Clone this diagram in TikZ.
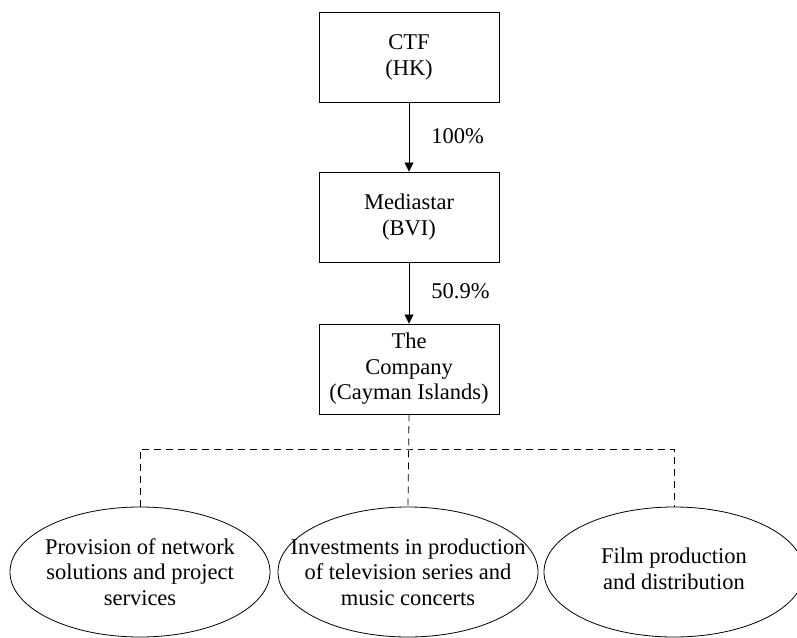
\documentclass[tikz,border=0pt]{standalone}
\usepackage{fontspec}
\setmainfont{Liberation Serif}
\usetikzlibrary{shapes.geometric,arrows.meta}
\begin{document}
\begin{tikzpicture}[x=1pt,y=-1pt,
  every node/.style={font=\fontsize{22.5}{25.5}\selectfont},
  entity/.style={draw,line width=0.9pt,minimum width=180pt,minimum height=90pt,align=center,inner sep=0pt},
  activity/.style={draw,line width=0.8pt,ellipse,minimum width=260pt,minimum height=130pt,inner sep=0pt},
  label/.style={align=center,inner sep=0pt},
  own/.style={line width=0.8pt,-{Triangle[length=9pt,width=9pt]}},
  link/.style={line width=0.8pt,dash pattern=on 7pt off 5pt},
  pct/.style={anchor=west,inner sep=0pt}]
\useasboundingbox (0,0) rectangle (797,637);
\node[entity] (ctf) at (409,57.5) {CTF\\(HK)};
\node[entity] (med) at (409,217) {Mediastar\\(BVI)};
\node[entity] (com) at (409,369) {The\\Company\\(Cayman Islands)};
\draw[own] (ctf) -- (med) node[pct,pos=0.48,xshift=22pt] {100\%};
\draw[own] (med) -- (com) node[pct,pos=0.47,xshift=22pt] {50.9\%};
\node[activity] (a1) at (140,572) {};
\node[activity] (a2) at (408,572) {};
\node[activity] (a3) at (674,572) {};
\node[label] (t1) at (a1.center) {Provision of network\\solutions and project\\services};
\node[label] (t2) at (a2.center) {Investments in production\\of television series and\\music concerts};
\node[label] (t3) at ([yshift=3pt]a3.center) {Film production\\and distribution};
\coordinate (bus) at (408,449);
\draw[link] (com.south) -- (a2.north);
\draw[link] (a1.north) |- (bus) -| (a3.north);
\end{tikzpicture}
\end{document}
